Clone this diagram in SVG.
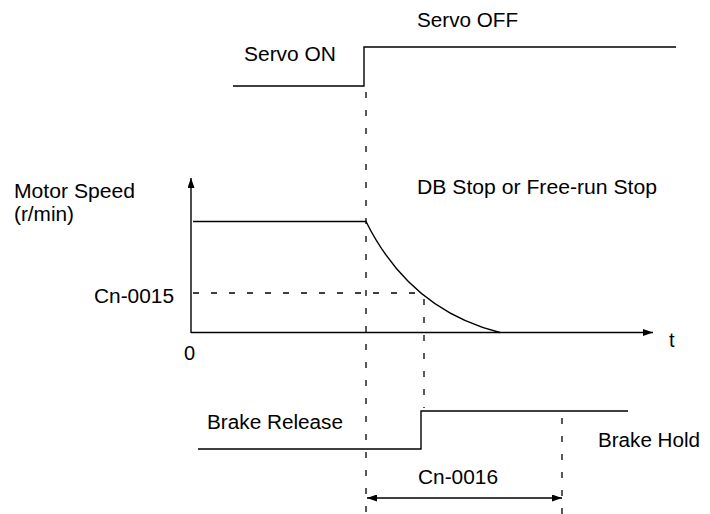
<svg xmlns="http://www.w3.org/2000/svg" width="710" height="514" viewBox="0 0 710 514">
<style>
.ln{fill:none;stroke:#000;stroke-width:1.4}
.ds{fill:none;stroke:#000;stroke-width:1.3;stroke-dasharray:6 12}
text{font-family:"Liberation Sans",Arial,sans-serif;font-size:20px;fill:#000}
</style>
<defs>
<marker id="ah" viewBox="0 0 10 7" refX="10" refY="3.5" markerWidth="10" markerHeight="7" markerUnits="userSpaceOnUse" orient="auto-start-reverse">
<path d="M0,0 L10,3.5 L0,7 z" fill="#000"/>
</marker>
</defs>
<rect width="710" height="514" fill="#fff"/>
<g id="connectors">
<line class="ds" x1="366" y1="92" x2="366" y2="514"/>
<line class="ds" x1="193" y1="293" x2="424" y2="293"/>
<line class="ds" x1="424" y1="299" x2="424" y2="408"/>
<line class="ds" x1="562" y1="418" x2="562" y2="514"/>
<line class="ln" x1="367" y1="498" x2="562" y2="498" marker-start="url(#ah)" marker-end="url(#ah)"/>
</g>
<g id="servo-signal">
<polyline class="ln" points="233,86 364,86 364,47 676,47"/>
<text x="417" y="27" textLength="101" lengthAdjust="spacingAndGlyphs">Servo OFF</text>
<text x="244" y="61" textLength="92" lengthAdjust="spacingAndGlyphs">Servo ON</text>
</g>
<g id="speed-axes">
<line class="ln" x1="191" y1="333" x2="191" y2="178" marker-end="url(#ah)"/>
<line class="ln" x1="191" y1="332.5" x2="653" y2="332.5" marker-end="url(#ah)"/>
<text x="14" y="198" textLength="121" lengthAdjust="spacingAndGlyphs">Motor Speed</text>
<text x="14" y="221" textLength="60" lengthAdjust="spacingAndGlyphs">(r/min)</text>
<text x="94" y="303" textLength="80" lengthAdjust="spacingAndGlyphs">Cn-0015</text>
<text x="184" y="360">0</text>
<text x="669" y="347">t</text>
</g>
<g id="speed-curve">
<path class="ln" d="M193,221.5 L366,221.5 Q410,310 500,332.5"/>
<text x="417" y="194" textLength="240" lengthAdjust="spacingAndGlyphs">DB Stop or Free-run Stop</text>
</g>
<g id="brake-signal">
<polyline class="ln" points="198,449 421,449 421,411 628,411"/>
<text x="207" y="429" textLength="136" lengthAdjust="spacingAndGlyphs">Brake Release</text>
<text x="598" y="447" textLength="102" lengthAdjust="spacingAndGlyphs">Brake Hold</text>
<text x="418" y="484" textLength="80" lengthAdjust="spacingAndGlyphs">Cn-0016</text>
</g>
</svg>
